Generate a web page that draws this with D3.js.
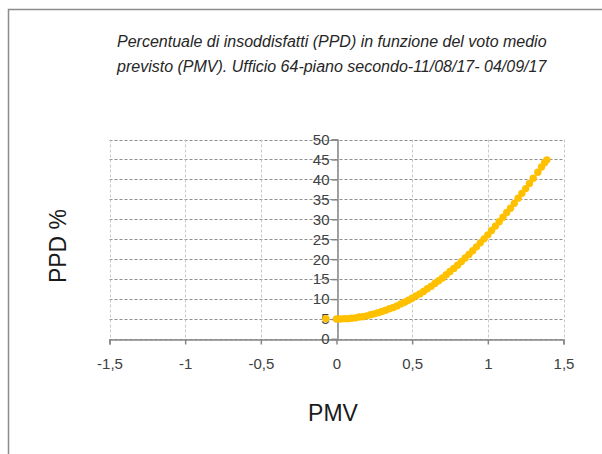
<!DOCTYPE html>
<html>
<head>
<meta charset="utf-8">
<script src="https://cdn.jsdelivr.net/npm/d3@7"></script>
<style>
  body { margin: 0; background: #fff; }
  svg { display: block; font-family: "Liberation Sans", Arial, sans-serif; }
</style>
</head>
<body>
<div id="chart"></div>
<script>
// data
const pmv = [-0.07, 0, 0.025, 0.05, 0.075, 0.1, 0.125, 0.15, 0.175, 0.2, 0.225, 0.25, 0.275, 0.3,
  0.325, 0.35, 0.375, 0.4, 0.425, 0.45, 0.475, 0.5, 0.525, 0.55, 0.575, 0.6, 0.625, 0.65, 0.675,
  0.7, 0.725, 0.75, 0.775, 0.8, 0.825, 0.85, 0.875, 0.9, 0.925, 0.95, 0.975, 1, 1.025, 1.05,
  1.075, 1.1, 1.125, 1.15, 1.175, 1.2, 1.225, 1.25, 1.275, 1.3, 1.33, 1.355, 1.375, 1.39];
const ppd = [5.1, 5.0, 5.0, 5.1, 5.1, 5.2, 5.3, 5.5, 5.6, 5.8, 6.1, 6.3, 6.6, 6.9,
  7.2, 7.6, 7.9, 8.3, 8.8, 9.2, 9.7, 10.2, 10.8, 11.3, 11.9, 12.6, 13.2, 13.9, 14.6,
  15.3, 16.1, 16.9, 17.7, 18.5, 19.4, 20.3, 21.2, 22.1, 23.1, 24.1, 25.1, 26.1, 27.2, 28.3,
  29.4, 30.5, 31.7, 32.8, 34.0, 35.3, 36.5, 37.7, 39.0, 40.3, 41.8, 43.1, 44.2, 44.9];
const xTicks = [-1.5, -1, -0.5, 0, 0.5, 1, 1.5];
const yTicks = [0, 5, 10, 15, 20, 25, 30, 35, 40, 45, 50];
const titleLines = ["Percentuale di insoddisfatti (PPD) in funzione del voto medio",
  "previsto (PMV). Ufficio 64-piano secondo-11/08/17- 04/09/17"];

const width = 602, height = 454;
const svg = d3.select("#chart").append("svg")
  .attr("width", width)
  .attr("height", height);

// outer chart frame (runs off the right and bottom edges)
svg.append("rect")
  .attr("x", 8.5).attr("y", 9.5)
  .attr("width", 700).attr("height", 600)
  .attr("fill", "none")
  .attr("stroke", "#8c8c8c")
  .attr("stroke-width", 1.5);

const x = d3.scaleLinear().domain([-1.5, 1.5]).range([109.5, 563.5]);
const y = d3.scaleLinear().domain([0, 50]).range([339, 139.5]);

// gridlines
svg.append("g")
  .selectAll("line")
  .data(yTicks)
  .join("line")
    .attr("x1", x(-1.5)).attr("x2", x(1.5))
    .attr("y1", d => Math.round(y(d)) + 0.5).attr("y2", d => Math.round(y(d)) + 0.5)
    .attr("stroke", "#8f8f8f")
    .attr("stroke-dasharray", "3,2");

svg.append("g")
  .selectAll("line")
  .data(xTicks)
  .join("line")
    .attr("x1", d => Math.round(x(d)) + 0.5).attr("x2", d => Math.round(x(d)) + 0.5)
    .attr("y1", y(50)).attr("y2", y(0))
    .attr("stroke", "#c8c8c8")
    .attr("stroke-dasharray", "3,2");

// x axis at PPD = 0
const xAxis = svg.append("g")
  .attr("transform", `translate(0,${Math.round(y(0)) + 0.5})`)
  .call(d3.axisBottom(x).tickValues(xTicks).tickSize(5).tickPadding(14)
    .tickFormat(d => String(d).replace(".", ",")));
xAxis.select(".domain").attr("stroke", "#868686").attr("stroke-width", 1.5);
xAxis.selectAll(".tick line").attr("stroke", "#868686").attr("stroke-width", 1.5);
xAxis.selectAll("text").attr("font-size", 15).attr("fill", "#404040");

// y axis at PMV = 0
const yAxis = svg.append("g")
  .attr("transform", `translate(${Math.round(x(0)) + 0.5},0)`)
  .call(d3.axisLeft(y).tickValues(yTicks).tickSize(6).tickPadding(2));
yAxis.select(".domain").attr("stroke", "#868686").attr("stroke-width", 1.5);
yAxis.selectAll(".tick line").attr("stroke", "#868686").attr("stroke-width", 1.5);
yAxis.selectAll("text").attr("font-size", 15).attr("fill", "#404040");

// data points
svg.append("g")
  .selectAll("circle")
  .data(d3.zip(pmv, ppd))
  .join("circle")
    .attr("cx", d => x(d[0]))
    .attr("cy", d => y(d[1]))
    .attr("r", 3.7)
    .attr("fill", "#ffc000");

// title
svg.append("text")
  .attr("y", 47)
  .attr("font-size", 16)
  .attr("font-style", "italic")
  .attr("fill", "#262626")
  .selectAll("tspan")
  .data(titleLines)
  .join("tspan")
    .attr("x", 117)
    .attr("dy", (d, i) => i ? 25 : 0)
    .text(d => d);

// axis titles
svg.append("text")
  .attr("x", 333).attr("y", 421)
  .attr("text-anchor", "middle")
  .attr("font-size", 23)
  .attr("fill", "#1a1a1a")
  .text("PMV");

svg.append("text")
  .attr("transform", "translate(66,246) rotate(-90)")
  .attr("text-anchor", "middle")
  .attr("font-size", 23)
  .attr("fill", "#1a1a1a")
  .text("PPD %");
</script>
</body>
</html>
